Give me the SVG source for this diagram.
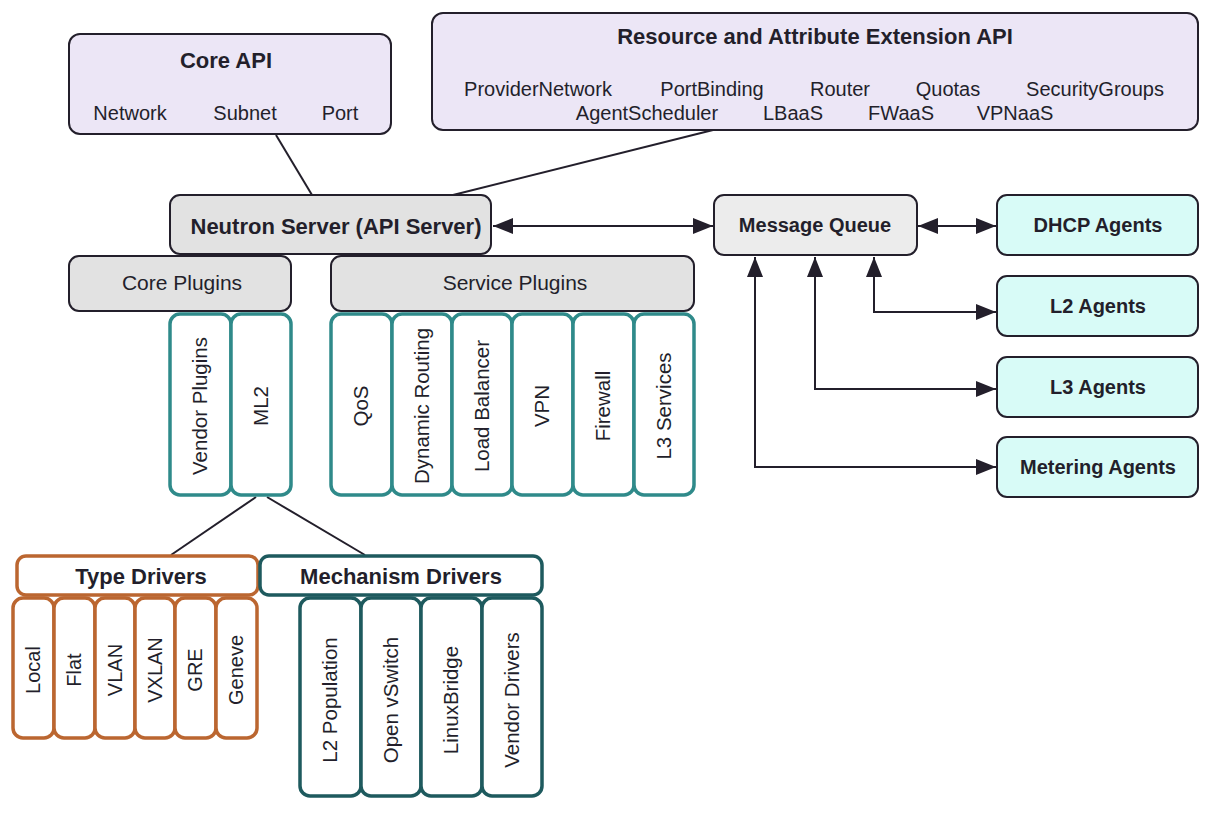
<svg xmlns="http://www.w3.org/2000/svg" width="1210" height="819" viewBox="0 0 1210 819">
<style>
text{font-family:"Liberation Sans",Arial,sans-serif;fill:#231f2b;}
.t{font-size:22px;font-weight:bold;text-anchor:middle;}
.r{font-size:20px;text-anchor:middle;}
.b{font-size:20px;font-weight:bold;text-anchor:middle;}
.api{fill:#ece6f6;stroke:#231f2b;stroke-width:2;}
.gray{fill:#e2e2e2;stroke:#231f2b;stroke-width:2;}
.mq{fill:#ececec;stroke:#231f2b;stroke-width:2;}
.agent{fill:#d8fbf7;stroke:#231f2b;stroke-width:2;}
.teal{fill:#fff;stroke:#2f8a8a;stroke-width:3.5;}
.orange{fill:#fff;stroke:#bb6630;stroke-width:3.5;}
.mech{fill:#fff;stroke:#1e5a5e;stroke-width:3.5;}
.ln{fill:none;stroke:#231f2b;stroke-width:2;}
</style>
<defs>
<marker id="ah" markerUnits="userSpaceOnUse" markerWidth="20" markerHeight="16" refX="20" refY="8" orient="auto-start-reverse">
<path d="M0,0 L20,8 L0,16 z" fill="#231f2b"/>
</marker>
</defs>

<g id="connectors">
<line class="ln" x1="276" y1="135" x2="312" y2="195"/>
<line class="ln" x1="713" y1="130" x2="453" y2="195"/>
<line class="ln" x1="493" y1="226" x2="713" y2="226" marker-start="url(#ah)" marker-end="url(#ah)"/>
<line class="ln" x1="918" y1="226" x2="996" y2="226" marker-start="url(#ah)" marker-end="url(#ah)"/>
<polyline class="ln" points="874,257 874,312 996,312" marker-start="url(#ah)" marker-end="url(#ah)"/>
<polyline class="ln" points="815,257 815,389 996,389" marker-start="url(#ah)" marker-end="url(#ah)"/>
<polyline class="ln" points="755,257 755,467 996,467" marker-start="url(#ah)" marker-end="url(#ah)"/>
<line class="ln" x1="256" y1="497" x2="171" y2="555"/>
<line class="ln" x1="267" y1="497" x2="365" y2="555"/>
</g>

<g id="core-api">
<rect class="api" x="69" y="34" width="322" height="100" rx="11"/>
<text class="t" x="226" y="68">Core API</text>
<text class="r" x="130" y="120">Network</text>
<text class="r" x="245" y="120">Subnet</text>
<text class="r" x="340" y="120">Port</text>
</g>

<g id="extension-api">
<rect class="api" x="432" y="13" width="766" height="117" rx="11"/>
<text class="t" x="815" y="44">Resource and Attribute Extension API</text>
<text class="r" x="538" y="96">ProviderNetwork</text>
<text class="r" x="712" y="96">PortBinding</text>
<text class="r" x="840" y="96">Router</text>
<text class="r" x="948" y="96">Quotas</text>
<text class="r" x="1095" y="96">SecurityGroups</text>
<text class="r" x="647" y="120">AgentScheduler</text>
<text class="r" x="793" y="120">LBaaS</text>
<text class="r" x="901" y="120">FWaaS</text>
<text class="r" x="1015" y="120">VPNaaS</text>
</g>

<g id="neutron-server">
<rect class="gray" x="170" y="195" width="321" height="59" rx="10"/>
<text class="t" x="336" y="234">Neutron Server (API Server)</text>
</g>

<g id="core-plugins">
<rect class="gray" x="69" y="256" width="222" height="55" rx="10"/>
<text class="r" x="182" y="290" style="font-size:21px">Core Plugins</text>
</g>

<g id="service-plugins">
<rect class="gray" x="331" y="256" width="363" height="55" rx="10"/>
<text class="r" x="515" y="290" style="font-size:21px">Service Plugins</text>
</g>

<g id="vendor-plugins">
<rect class="teal" x="170" y="314" width="61" height="181" rx="10"/>
<text class="r" transform="translate(207,406) rotate(-90)" style="font-size:20.5px">Vendor Plugins</text>
</g>
<g id="ml2">
<rect class="teal" x="231" y="314" width="60" height="181" rx="10"/>
<text class="r" transform="translate(268,406) rotate(-90)" style="font-size:20.5px">ML2</text>
</g>

<g id="qos">
<rect class="teal" x="331" y="314" width="61" height="181" rx="10"/>
<text class="r" transform="translate(368,406) rotate(-90)" style="font-size:20.5px">QoS</text>
</g>
<g id="dynamic-routing">
<rect class="teal" x="392" y="314" width="60" height="181" rx="10"/>
<text class="r" transform="translate(429,406) rotate(-90)" style="font-size:20.5px">Dynamic Routing</text>
</g>
<g id="load-balancer">
<rect class="teal" x="452" y="314" width="60" height="181" rx="10"/>
<text class="r" transform="translate(489,406) rotate(-90)" style="font-size:20.5px">Load Balancer</text>
</g>
<g id="vpn">
<rect class="teal" x="512" y="314" width="61" height="181" rx="10"/>
<text class="r" transform="translate(549,406) rotate(-90)" style="font-size:20.5px">VPN</text>
</g>
<g id="firewall">
<rect class="teal" x="573" y="314" width="61" height="181" rx="10"/>
<text class="r" transform="translate(610,406) rotate(-90)" style="font-size:20.5px">Firewall</text>
</g>
<g id="l3-services">
<rect class="teal" x="634" y="314" width="60" height="181" rx="10"/>
<text class="r" transform="translate(671,406) rotate(-90)" style="font-size:20.5px">L3 Services</text>
</g>

<g id="message-queue">
<rect class="mq" x="714" y="195" width="203" height="60" rx="10"/>
<text class="b" x="815" y="232">Message Queue</text>
</g>

<g id="dhcp-agents">
<rect class="agent" x="997" y="195" width="201" height="60" rx="10"/>
<text class="b" x="1098" y="232">DHCP Agents</text>
</g>
<g id="l2-agents">
<rect class="agent" x="997" y="276" width="201" height="60" rx="10"/>
<text class="b" x="1098" y="313">L2 Agents</text>
</g>
<g id="l3-agents">
<rect class="agent" x="997" y="357" width="201" height="60" rx="10"/>
<text class="b" x="1098" y="394">L3 Agents</text>
</g>
<g id="metering-agents">
<rect class="agent" x="997" y="437" width="201" height="60" rx="10"/>
<text class="b" x="1098" y="474">Metering Agents</text>
</g>

<g id="type-drivers">
<rect class="orange" x="17" y="556" width="241" height="39" rx="9"/>
<text class="t" x="141" y="584">Type Drivers</text>
</g>
<g id="mechanism-drivers">
<rect class="mech" x="260" y="556" width="282" height="39" rx="9"/>
<text class="t" x="401" y="584">Mechanism Drivers</text>
</g>

<g id="local">
<rect class="orange" x="13" y="598" width="41" height="140" rx="10"/>
<text class="r" transform="translate(40,670) rotate(-90)">Local</text>
</g>
<g id="flat">
<rect class="orange" x="54" y="598" width="41" height="140" rx="10"/>
<text class="r" transform="translate(81,670) rotate(-90)">Flat</text>
</g>
<g id="vlan">
<rect class="orange" x="95" y="598" width="40" height="140" rx="10"/>
<text class="r" transform="translate(122,670) rotate(-90)">VLAN</text>
</g>
<g id="vxlan">
<rect class="orange" x="135" y="598" width="40" height="140" rx="10"/>
<text class="r" transform="translate(162,670) rotate(-90)">VXLAN</text>
</g>
<g id="gre">
<rect class="orange" x="175" y="598" width="41" height="140" rx="10"/>
<text class="r" transform="translate(202,670) rotate(-90)">GRE</text>
</g>
<g id="geneve">
<rect class="orange" x="216" y="598" width="41" height="140" rx="10"/>
<text class="r" transform="translate(243,670) rotate(-90)">Geneve</text>
</g>

<g id="l2-population">
<rect class="mech" x="300" y="598" width="61" height="198" rx="10"/>
<text class="r" transform="translate(337,700) rotate(-90)" style="font-size:20.5px">L2 Population</text>
</g>
<g id="open-vswitch">
<rect class="mech" x="361" y="598" width="60" height="198" rx="10"/>
<text class="r" transform="translate(398,700) rotate(-90)" style="font-size:20.5px">Open vSwitch</text>
</g>
<g id="linuxbridge">
<rect class="mech" x="421" y="598" width="61" height="198" rx="10"/>
<text class="r" transform="translate(458,700) rotate(-90)" style="font-size:20.5px">LinuxBridge</text>
</g>
<g id="vendor-drivers">
<rect class="mech" x="482" y="598" width="60" height="198" rx="10"/>
<text class="r" transform="translate(519,700) rotate(-90)" style="font-size:20.5px">Vendor Drivers</text>
</g>
</svg>
